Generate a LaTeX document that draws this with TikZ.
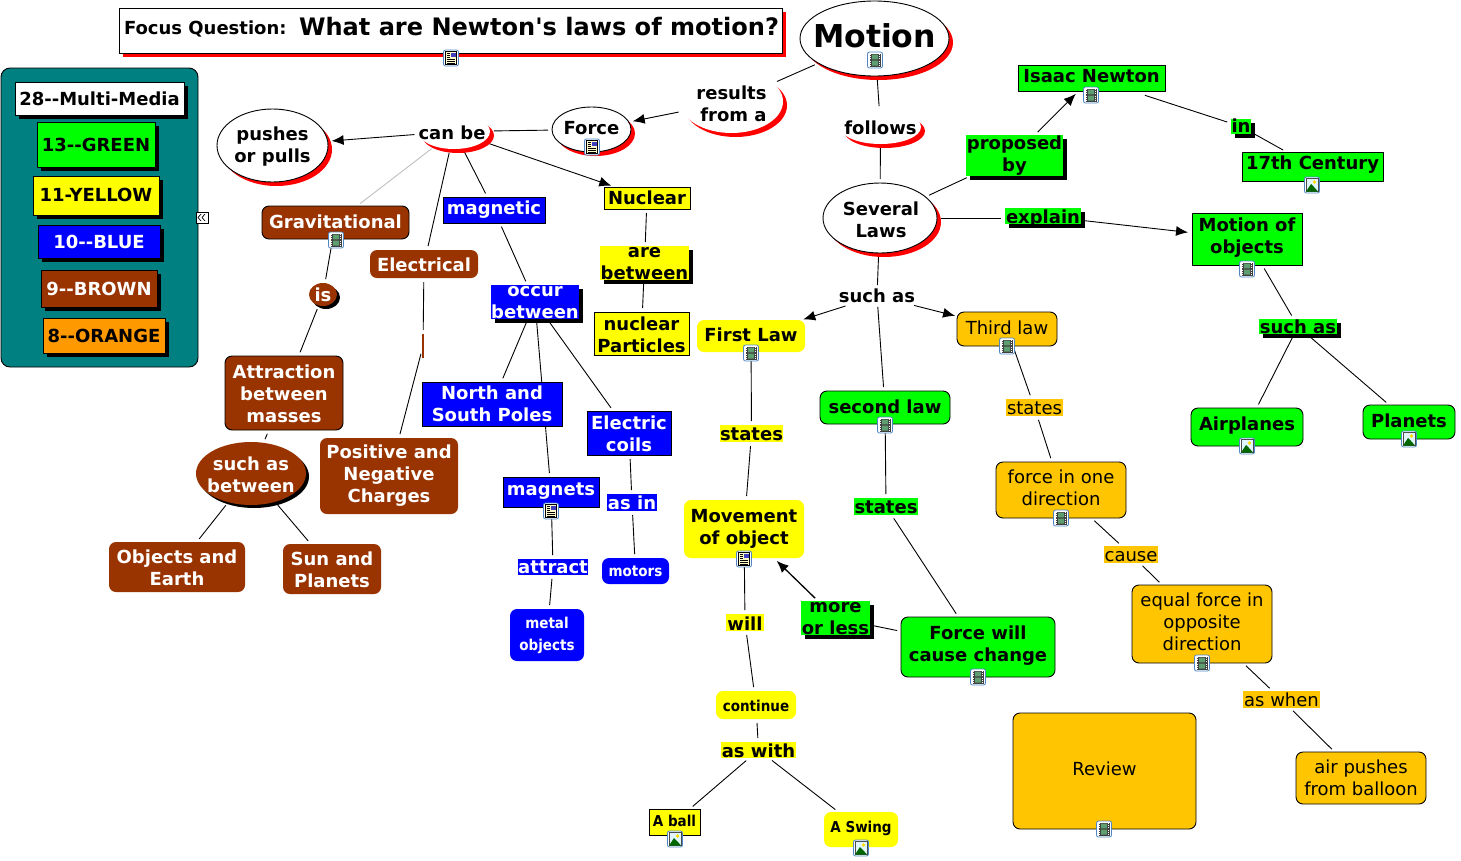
\documentclass[tikz,border=0pt]{standalone}
\usepackage{fontspec}
\setmainfont{DejaVu Sans}[Ligatures=TeXOff]
\newfontfamily\tah{DejaVu Sans Condensed}[Ligatures=TeXOff]
\usetikzlibrary{arrows.meta,shadows,shapes.geometric}
\definecolor{gr}{HTML}{00FF00}
\definecolor{yl}{HTML}{FFFF00}
\definecolor{bl}{HTML}{0000FF}
\definecolor{brn}{HTML}{993300}
\definecolor{org}{HTML}{FF9900}
\definecolor{gld}{HTML}{FFC500}
\definecolor{tl}{HTML}{008080}
\definecolor{icb}{HTML}{4F86C6}
\definecolor{icg}{HTML}{5E9E70}
\pgfdeclarelayer{behind}
\pgfsetlayers{behind,main}
\def\tdy{0}
\def\tdx{0}
\newcommand{\mt}[1]{\makebox[0pt][c]{\kern\tdx pt\kern\tdx pt\smash{\raisebox{-\tdy pt}{\raisebox{-0.25em}{\raisebox{-2pt}{\begin{tabular}[c]{@{}c@{}}#1\end{tabular}}}}}}}
\newcommand{\bx}[7]{\node[#2,minimum width={#5-#3},minimum height={#6-#4}] (#1) at ({(#3+#5)/2},{(#4+#6)/2}) {\mt{#7}};}
\newcommand{\lnk}[2]{\draw[conn] (#1) -- (#2);}
\newcommand{\arw}[2]{\draw[conn,-{Latex[length=12pt,width=10pt]}] (#1) -- (#2);}
\tikzset{
 x=1pt,y=-1pt,
 ty/.code={\def\tdy{#1}},
 tx/.code={\def\tdx{#1}},
 base/.style={inner sep=0pt,outer sep=0pt,line width=0.9pt,font=\fontsize{18}{22}\selectfont\bfseries},
 rect/.style={base,rectangle,draw=black},
 plain/.style={base,rectangle,draw=none},
 rnd/.style={base,rectangle,rounded corners=7pt,draw=black},
 rndn/.style={base,rectangle,rounded corners=7pt,draw=none},
 oval/.style={base,ellipse,draw=black},
 ovaln/.style={base,ellipse,draw=none,fill=white},
 rs/.style={drop shadow={shadow xshift=4pt,shadow yshift=-4pt,fill=red,opacity=1}},
 ks/.style={drop shadow={shadow xshift=4pt,shadow yshift=-4pt,fill=black,opacity=1}},
 conn/.style={draw=black,line width=0.9pt,shorten <=4pt,shorten >=4pt},
 wt/.style={text=white},
 reg/.style={font=\fontsize{18}{22}\selectfont},
 sm/.style={font=\fontsize{15}{22}\selectfont\tah\bfseries},
 frame/.pic={\draw[draw=icb,line width=0.8pt,fill=white,rounded corners=2pt] (-7.5,-8) rectangle (7.5,8);},
 icfilm/.pic={\pic{frame};\fill[black!75] (-5.5,-6.5) rectangle (5.5,6.5);
   \fill[icg] (-3,-5.5) rectangle (3,-0.6) (-3,0.6) rectangle (3,5.5);
   \draw[white,line width=0.7pt,dash pattern=on 1pt off 1.2pt] (-4.3,-6) -- (-4.3,6) (4.3,-6) -- (4.3,6);},
 icdoc/.pic={\pic{frame};\draw[black,fill=yellow!20,line width=0.6pt] (-5.5,-6.5) rectangle (5.5,6.5);
   \fill[blue!50!gray] (0,-5.5) rectangle (4.5,-1);
   \draw[black,line width=0.7pt] (-4,-5) -- (-1,-5) (-4,-3) -- (-1,-3) (-4,-1) -- (-1,-1) (-4,1) -- (4,1) (-4,3) -- (4,3) (-4,5) -- (4,5);},
 icimg/.pic={\pic{frame};\draw[black!70,fill=cyan!12,line width=0.6pt] (-6,-6.5) rectangle (6,6.5);
   \fill[yellow!80!orange] (2.5,-3) circle (1.8);
   \fill[green!40!black] (-6,6.5) -- (-1,-1) -- (2,2) -- (6,6.5) -- cycle;},
}
\begin{document}
\begin{tikzpicture}
\useasboundingbox (0,0) rectangle (1461,860);
\begin{pgfonlayer}{behind}
\fill[white] (0,0) rectangle (1461,860);
\end{pgfonlayer}
% legend
\bx{panel}{rnd,fill=tl,rounded corners=9pt}{1}{68}{198}{367}{}
\bx{lgm}{rect,fill=white,ks}{15}{82}{184}{115}{28--Multi-Media}
\bx{lgg}{rect,fill=gr,ks}{37}{122}{155}{167}{13--GREEN}
\bx{lgy}{rect,fill=yl,ks,ty=-1}{33}{176}{159}{215}{11-YELLOW}
\bx{lgb}{rect,fill=bl,ks,wt}{38}{225}{160}{258}{10--BLUE}
\bx{lgr}{rect,fill=brn,ks,wt}{41}{270}{157}{307}{9--BROWN}
\bx{lgo}{rect,fill=org,ks}{43}{318}{165}{353}{8--ORANGE}
\bx{handle}{rect,fill=white,line width=0.7pt}{196}{212}{208}{223}{}
\draw[black,line width=0.7pt] (201,214) -- (198,217.5) -- (201,221) (205,214) -- (202,217.5) -- (205,221);
% title
\bx{focus}{rect,fill=white,rs}{119}{8}{782}{53}{}
\node[base,anchor=west] (focustxt) at (124,29) {\fontsize{18}{22}\selectfont Focus Question:};
\node[base,anchor=west] (focusq) at (299,27) {\fontsize{24.05}{30}\selectfont What are Newton's laws of motion?};
% top ellipses
\bx{motion}{oval,fill=white,rs,ty=-3,font=\fontsize{31.5}{40}\selectfont\bfseries}{800}{1}{949}{76}{Motion}
\bx{results}{ovaln,rs,ty=2}{680}{70}{783}{133}{results\\\hspace{4pt}from a}
\bx{follows}{ovaln,rs,ty=1}{840}{110}{921}{144}{follows}
\bx{canbe}{ovaln,rs,ty=1,tx=-2}{418}{114}{490}{149}{can be}
\bx{pushes}{oval,fill=white,rs,ty=-1}{217}{109}{328}{182}{pushes\\or pulls}
\bx{force}{oval,fill=white,rs,ty=-2}{552}{107}{631}{152}{Force}
\bx{several}{oval,fill=white,rs,ty=2,tx=1}{823}{183}{937}{253}{Several\hspace{5pt}\\Laws}
% yellow nuclear
\bx{nuclear}{rect,fill=yl}{604}{187}{690}{209}{Nuclear}
\bx{arebetween}{plain,fill=yl,ks,ty=-1}{600}{246}{689}{280}{are\\between}
\bx{particles}{rect,fill=yl,ty=1}{594}{312}{689}{355}{nuclear\hspace{6pt}\\Particles}
% blue
\bx{magnetic}{rect,fill=bl,wt,ty=-2}{443}{197}{545}{223}{magnetic}
\bx{occur}{plain,fill=bl,ks,wt,ty=-1}{491}{285}{579}{319}{occur\\between}
\bx{north}{rect,fill=bl,wt}{422}{382}{562}{426}{North and\\South Poles}
\bx{coils}{rect,fill=bl,wt,ty=1}{587}{411}{671}{455}{Electric\\coils}
\bx{magnets}{rect,fill=bl,wt,ty=-3}{503}{477}{599}{507}{magnets}
\bx{attract}{plain,fill=bl,wt}{518}{559}{588}{575}{attract}
\bx{asin}{plain,fill=bl,wt}{607}{494}{657}{511}{as in}
\bx{motors}{rndn,fill=bl,wt,sm,ty=-1}{602}{558}{669}{584}{motors}
\bx{metal}{rndn,fill=bl,wt,sm,ty=-2}{510}{609}{584}{661}{metal\\objects}
% brown
\bx{grav}{rnd,fill=brn,wt,ty=-1}{262}{206}{409}{239}{Gravitational}
\bx{elec}{rndn,fill=brn,wt,ty=1}{370}{250}{478}{278}{Electrical}
\bx{is}{base,ellipse,fill=brn,wt,drop shadow={shadow xshift=3pt,shadow yshift=-3pt,fill=black,opacity=1}}{309}{283}{337}{306}{is}
\bx{elink}{plain,fill=brn}{422}{334}{424}{358}{}
\bx{attr}{rnd,fill=brn,wt,ty=1}{225}{356}{343}{430}{Attraction\\between\\masses}
\bx{charges}{rndn,fill=brn,wt,ty=-2}{320}{438}{458}{514}{Positive and\\Negative\\Charges}
\bx{suchbetween}{base,ellipse,fill=brn,wt,ty=1,drop shadow={shadow xshift=3pt,shadow yshift=-3pt,fill=black,opacity=1}}{196}{442}{306}{505}{such as\\between}
\bx{earth}{rndn,fill=brn,wt,ty=1}{109}{542}{245}{592}{Objects and\\Earth}
\bx{planetsb}{rndn,fill=brn,wt,ty=1}{283}{544}{381}{594}{Sun and\\Planets}
% center yellow
\node[base] (suchas) at (877,296) {such as};
\bx{first}{rndn,fill=yl,ty=-1}{697}{320}{805}{352}{First Law}
\bx{statesy}{plain,fill=yl}{720}{425}{783}{442}{states}
\bx{movement}{rndn,fill=yl,ty=-2}{684}{500}{804}{558}{Movement\\of object}
\bx{will}{plain,fill=yl,ty=1}{726}{614}{764}{631}{will}
\bx{continue}{rndn,fill=yl,sm}{716}{691}{796}{719}{continue}
\bx{aswith}{plain,fill=yl,ty=1}{721}{742}{796}{758}{as with}
\bx{ball}{rect,fill=yl,sm,ty=-2}{649}{809}{700}{835}{A ball}
\bx{swing}{rndn,fill=yl,sm,ty=-4}{824}{812}{898}{847}{A Swing}
% center green
\bx{second}{rnd,fill=gr,ty=-1}{820}{391}{950}{424}{second law}
\bx{statesg}{plain,fill=gr}{854}{498}{918}{515}{states}
\bx{willchange}{rnd,fill=gr,ty=-3}{901}{617}{1055}{677}{Force will\\cause change}
\bx{moreless}{plain,fill=gr,ks,ty=-1}{801}{601}{870}{635}{more\\or less}
% gold
\bx{third}{rnd,fill=gld,reg,ty=-1}{957}{312}{1057}{346}{Third law}
\bx{statesgd}{plain,fill=gld,reg}{1006}{399}{1063}{416}{states}
\bx{oneway}{rnd,fill=gld,reg,ty=-2}{996}{462}{1126}{518}{force in one\\direction}
\bx{cause}{plain,fill=gld,reg}{1104}{546}{1158}{563}{cause}
\bx{equal}{rnd,fill=gld,reg,ty=-2}{1132}{585}{1272}{663}{equal force in\\opposite\\direction}
\bx{aswhen}{plain,fill=gld,reg}{1243}{691}{1320}{708}{as when}
\bx{air}{rnd,fill=gld,reg}{1296}{752}{1426}{804}{air pushes\\from balloon}
\bx{review}{rnd,fill=gld,reg,ty=-2}{1013}{713}{1196}{829}{Review}
% right green
\bx{newton}{rect,fill=gr,ty=-2}{1018}{65}{1165}{91}{Isaac Newton}
\bx{proposed}{plain,fill=gr,ks,ty=-2}{966}{135}{1063}{176}{proposed\\by}
\bx{inlab}{plain,fill=gr,ks,ty=-1}{1231}{119}{1251}{134}{in}
\bx{century}{rect,fill=gr,ty=-4}{1242}{152}{1383}{181}{17th Century}
\bx{explain}{plain,fill=gr,ks,ty=1}{1005}{208}{1081}{224}{explain}
\bx{objects}{rect,fill=gr,ty=-3}{1192}{213}{1302}{265}{Motion of\hspace{8pt}\\objects}
\bx{suchg}{plain,fill=gr,ks}{1259}{319}{1337}{334}{such as}
\bx{airplanes}{rnd,fill=gr,ty=-3}{1191}{408}{1303}{446}{Airplanes}
\bx{planets}{rnd,fill=gr,ty=-1}{1363}{405}{1455}{439}{Planets}
% icons
\pic at (451,58) {icdoc};
\pic at (875,60) {icfilm};
\pic at (592,147) {icdoc};
\pic at (1091,95) {icfilm};
\pic at (1312,185) {icimg};
\pic at (1247,269) {icfilm};
\pic at (1007,346) {icfilm};
\pic at (751,353) {icfilm};
\pic at (885,425) {icfilm};
\pic at (336,240) {icfilm};
\pic at (1247,446) {icimg};
\pic at (1409,439) {icimg};
\pic at (551,511) {icdoc};
\pic at (1061,518) {icfilm};
\pic at (744,559) {icdoc};
\pic at (978,677) {icfilm};
\pic at (1202,663) {icfilm};
\pic at (675,839) {icimg};
\pic at (861,848) {icimg};
\pic at (1104,829) {icfilm};
% connectors
\begin{pgfonlayer}{behind}
\lnk{motion}{results}
\arw{results}{force}
\lnk{motion}{follows}
\lnk{follows}{several}
\lnk{force}{canbe}
\arw{canbe}{pushes}
\draw[conn,draw=black!25] (canbe) -- (grav);
\lnk{canbe}{elec}
\lnk{canbe}{magnetic}
\arw{canbe}{nuclear}
\lnk{nuclear}{arebetween}
\lnk{arebetween}{particles}
\lnk{magnetic}{occur}
\lnk{occur}{north}
\lnk{occur}{magnets}
\lnk{occur}{coils}
\lnk{magnets}{attract}
\lnk{attract}{metal}
\lnk{coils}{asin}
\lnk{asin}{motors}
\lnk{grav}{is}
\lnk{is}{attr}
\lnk{attr}{suchbetween}
\lnk{suchbetween}{earth}
\lnk{suchbetween}{planetsb}
\lnk{elec}{elink}
\lnk{elink}{charges}
\lnk{several}{suchas}
\draw[conn,shorten <=10pt,shorten >=2pt,-{Latex[length=12pt,width=10pt]}] (suchas) -- (first);
\lnk{suchas}{second}
\draw[conn,shorten <=10pt,shorten >=2pt,-{Latex[length=12pt,width=10pt]}] (suchas) -- (third);
\lnk{first}{statesy}
\lnk{statesy}{movement}
\lnk{movement}{will}
\lnk{will}{continue}
\lnk{continue}{aswith}
\lnk{aswith}{ball}
\lnk{aswith}{swing}
\lnk{second}{statesg}
\lnk{statesg}{willchange}
\lnk{willchange}{moreless}
\draw[conn,line width=1.3pt,-{Latex[length=12pt,width=10pt]}] (moreless) -- (movement);
\lnk{third}{statesgd}
\lnk{statesgd}{oneway}
\lnk{oneway}{cause}
\lnk{cause}{equal}
\lnk{equal}{aswhen}
\lnk{aswhen}{air}
\lnk{several}{proposed}
\arw{proposed}{newton}
\draw[conn,shorten <=14pt] (newton) -- (inlab);
\lnk{inlab}{century}
\draw[conn] (several.east) -- (explain.west |- several.east);
\arw{explain}{objects}
\lnk{objects}{suchg}
\lnk{suchg}{airplanes}
\lnk{suchg}{planets}
\end{pgfonlayer}
\end{tikzpicture}
\end{document}
